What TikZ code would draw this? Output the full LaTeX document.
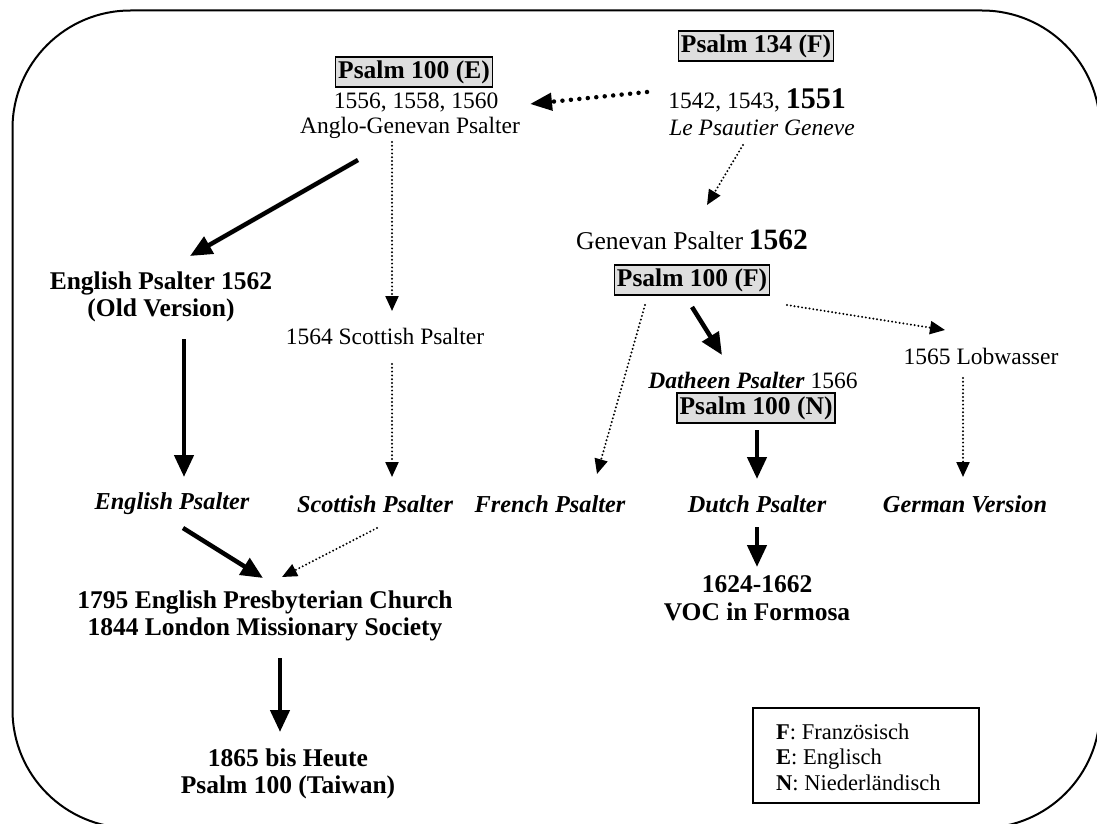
\documentclass[tikz,border=0pt]{standalone}
\usepackage{fontspec}
\setmainfont{Liberation Serif}
\usetikzlibrary{arrows.meta,calc}
\begin{document}
\begin{tikzpicture}[x=1pt,y=-1pt,
  rg/.style={inner sep=0pt,align=center,font=\fontsize{23.5}{27}\selectfont},
  bd/.style={inner sep=0pt,align=center,font=\fontsize{25.5}{27.5}\selectfont\bfseries},
  bi/.style={inner sep=0pt,align=center,font=\fontsize{24.3}{28}\selectfont\bfseries\itshape},
  psbox/.style={draw,line width=1.3pt,fill=black!13,inner xsep=2.5pt,inner ysep=3.5pt,font=\fontsize{25.5}{27}\selectfont\bfseries},
  thickarr/.style={line width=4.5pt,-{Triangle[length=22pt,width=19pt]}},
  dotarr/.style={line width=2.2pt,line cap=round,dash pattern=on 0pt off 3.8pt,-{Triangle[length=15pt,width=13pt]}},
  bigdot/.style={line width=4.5pt,line cap=round,dash pattern=on 0pt off 8.5pt,-{Triangle[length=22pt,width=17pt]}}
]
\useasboundingbox (0,0) rectangle (1097,824);
\clip (0,0) rectangle (1097,824);
\draw[line width=2pt,rounded corners=118pt] (12.5,10.5) rectangle (1100,828);

% top left
\node[psbox] (pE) at (414,72) {Psalm 100 (E)};
\node[rg] (eY) at (416,102) {1556, 1558, 1560};
\node[rg] (anglo) at (410,128) {Anglo-Genevan Psalter};
% top right
\node[psbox] (p134) at (756,46) {Psalm 134 (F)};
\node[rg] (fY) at (757,100) {1542, 1543, {\bfseries\fontsize{30}{30}\selectfont 1551}};
\node[rg,font=\fontsize{23.5}{27}\selectfont\itshape] (lep) at (762,128) {Le Psautier Geneve};
% genevan
\node[rg] (gen) at (692,240) {{\fontsize{25.6}{28}\selectfont Genevan Psalter} {\bfseries\fontsize{29.5}{30}\selectfont 1562}};
\node[psbox] (pF) at (692,280) {Psalm 100 (F)};
\node[rg] (dat) at (753,380) {\textbf{\textit{Datheen Psalter}} 1566};
\node[psbox] (pN) at (756,408) {Psalm 100 (N)};
\node[rg] (lob) at (981,356) {1565 Lobwasser};
% left column
\node[bd] (ep62) at (161,297) {English Psalter 1562\\(Old Version)};
\node[rg] (sc64) at (385,336) {1564 Scottish Psalter};
% psalter row
\node[bi] (en) at (172,504) {English Psalter};
\node[bi] (sc) at (375,504) {Scottish Psalter};
\node[bi] (fr) at (550,504) {French Psalter};
\node[bi] (du) at (757,504) {Dutch Psalter};
\node[bi] (ge) at (965,504) {German Version};
% bottom
\node[bd] (church) at (265,616) {1795 English Presbyterian Church\\1844 London Missionary Society};
\node[bd] (tw) at (288,774) {1865 bis Heute\\Psalm 100 (Taiwan)};
\node[bd] (voc) at (757,598) {1624-1662\\VOC in Formosa};
% legend
\node[draw,line width=1.5pt,minimum width=226pt,minimum height=95pt,inner sep=0pt] (leg) at (866,755.5) {};
\node[anchor=west,align=left,inner sep=0pt,font=\fontsize{22.5}{25.5}\selectfont] (legtxt) at (776,757)
  {\textbf{F}: Französisch\\\textbf{E}: Englisch\\\textbf{N}: Niederländisch};

% connectors
\draw[bigdot] ($(fY)+(-110,-8)$) -- ($(eY)+(114,2)$);
\draw[dotarr] ($(lep)+(-19,17)$) -- ($(gen)+(15,-35)$);
\draw[thickarr] ($(anglo)+(-52,32)$) -- ($(ep62)+(29,-41)$);
\draw[dotarr] ($(anglo)+(-18,14)$) -- ($(sc64)+(7,-25)$);
\draw[dotarr] ($(sc64)+(7,28)$) -- ($(sc)+(17,-27)$);
\draw[thickarr] ($(ep62)+(23,42)$) -- ($(en)+(12,-27)$);
\draw[thickarr] ($(en)+(11,24)$) -- ($(church)+(-2,-38)$);
\draw[dotarr] ($(sc)+(2,24)$) -- ($(church)+(17,-39)$);
\draw[thickarr] ($(church)+(15,42)$) -- ($(tw)+(-8,-42)$);
\draw[thickarr] ($(pF)+(0,27)$) -- ($(dat)+(-31,-25)$);
\draw[dotarr] ($(pF)+(-47,25)$) -- ($(fr)+(47,-30)$);
\draw[dotarr] ($(pF)+(95,25)$) -- ($(lob)+(-36,-26)$);
\draw[dotarr] ($(lob)+(-18,22)$) -- ($(ge)+(-2,-27)$);
\draw[thickarr] ($(pN)+(1,22)$) -- ($(du)+(0,-25)$);
\draw[thickarr] ($(du)+(0,23)$) -- ($(voc)+(0,-31)$);
\end{tikzpicture}
\end{document}
